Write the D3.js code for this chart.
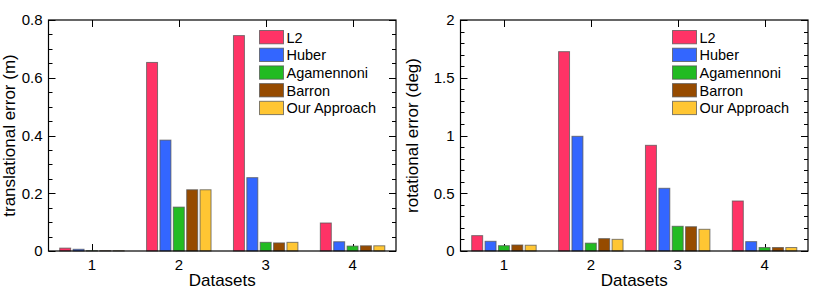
<!DOCTYPE html>
<html><head><meta charset="utf-8">
<script src="https://cdn.jsdelivr.net/npm/d3@7"></script>
<style>
html,body{margin:0;padding:0;background:#fff;}
svg{display:block;font-family:"Liberation Sans",Arial,Helvetica,sans-serif;}
</style></head>
<body>
<svg id="chart" width="831" height="290"></svg>
<script>
const datasets = ["1", "2", "3", "4"];
const seriesNames = ["L2", "Huber", "Agamennoni", "Barron", "Our Approach"];
const seriesColors = ["#ff3366", "#3366ff", "#22bb22", "#964b00", "#ffc633"];
// translational error (m), one array per series, values for datasets 1..4
const transL2 = [0.010, 0.653, 0.746, 0.097];
const transHuber = [0.006, 0.384, 0.254, 0.032];
const transAgamennoni = [0.001, 0.152, 0.030, 0.017];
const transBarron = [0.001, 0.212, 0.028, 0.018];
const transOurs = [0.001, 0.212, 0.030, 0.018];
// rotational error (deg)
const rotL2 = [0.133, 1.726, 0.915, 0.433];
const rotHuber = [0.084, 0.993, 0.543, 0.081];
const rotAgamennoni = [0.046, 0.068, 0.214, 0.030];
const rotBarron = [0.052, 0.107, 0.210, 0.030];
const rotOurs = [0.050, 0.101, 0.188, 0.030];
const transTicks = [0, 0.2, 0.4, 0.6, 0.8];
const transTickLabels = ["0", "0.2", "0.4", "0.6", "0.8"];
const rotTicks = [0, 0.5, 1, 1.5, 2];
const rotTickLabels = ["0", "0.5", "1", "1.5", "2"];

const svg = d3.select("#chart");

function drawPanel(cfg) {
  const {x0, x1, y0, y1, maxY, majorTicks, majorLabels, minorStep, values, ylabel, ylabelX, legendX} = cfg;
  const g = svg.append("g");
  const x = d3.scaleBand().domain(datasets).range([x0, x1]).padding(0);
  const y = d3.scaleLinear().domain([0, maxY]).range([y1, y0]);
  const groupW = x.bandwidth() * 0.742;
  const xs = d3.scaleBand().domain(seriesNames).range([0, groupW]).paddingInner(0.18).paddingOuter(0);

  // minor + major y ticks, both sides, inward
  const minor = d3.range(0, maxY + 1e-9, minorStep);
  const tickG = g.append("g").attr("stroke", "#000").attr("stroke-width", 1);
  minor.forEach(v => {
    const isMajor = majorTicks.some(m => Math.abs(m - v) < 1e-9);
    const len = isMajor ? 7 : 4;
    const yy = Math.round(y(v)) + 0.5;
    tickG.append("line").attr("x1", x0).attr("x2", x0 + len).attr("y1", yy).attr("y2", yy);
    tickG.append("line").attr("x1", x1).attr("x2", x1 - len).attr("y1", yy).attr("y2", yy);
  });
  // x ticks top and bottom
  datasets.forEach(d => {
    const xx = Math.round(x(d) + x.bandwidth() / 2) + 0.5;
    tickG.append("line").attr("x1", xx).attr("x2", xx).attr("y1", y1).attr("y2", y1 - 7);
    tickG.append("line").attr("x1", xx).attr("x2", xx).attr("y1", y0).attr("y2", y0 + 7);
  });

  // bars
  seriesNames.forEach((s, si) => {
    g.append("g").selectAll("rect").data(values[si]).join("rect")
      .attr("x", (v, i) => x(datasets[i]) + (x.bandwidth() - groupW) / 2 + xs(s))
      .attr("y", v => y(v))
      .attr("width", xs.bandwidth())
      .attr("height", v => y1 - y(v))
      .attr("fill", seriesColors[si])
      .attr("stroke", "#555")
      .attr("stroke-opacity", 0.75)
      .attr("stroke-width", 1);
  });

  // frame
  g.append("rect").attr("x", x0).attr("y", y0).attr("width", x1 - x0).attr("height", y1 - y0)
    .attr("fill", "none").attr("stroke", "#000").attr("stroke-width", 1.2);

  // y tick labels
  g.append("g").selectAll("text").data(majorTicks).join("text")
    .attr("x", x0 - 6).attr("y", v => y(v)).attr("dy", "0.36em")
    .attr("text-anchor", "end").attr("font-size", 15).attr("fill", "#000")
    .text((v, i) => majorLabels[i]);
  // x tick labels
  g.append("g").selectAll("text").data(datasets).join("text")
    .attr("x", d => x(d) + x.bandwidth() / 2).attr("y", y1 + 19)
    .attr("text-anchor", "middle").attr("font-size", 15).attr("fill", "#000")
    .text(d => d);
  // axis labels
  g.append("text").attr("x", (x0 + x1) / 2).attr("y", 286)
    .attr("text-anchor", "middle").attr("font-size", 17).text("Datasets");
  g.append("text").attr("transform", `translate(${ylabelX},${(y0 + y1) / 2}) rotate(-90)`)
    .attr("text-anchor", "middle").attr("font-size", 17).text(ylabel);

  // legend
  const lg = g.append("g");
  seriesNames.forEach((s, si) => {
    const ly = 30.5 + si * 17.7;
    lg.append("rect").attr("x", legendX).attr("y", ly).attr("width", 24).attr("height", 13.3)
      .attr("fill", seriesColors[si]).attr("stroke", "#555").attr("stroke-opacity", 0.75);
    lg.append("text").attr("x", legendX + 27).attr("y", ly + 6.8).attr("dy", "0.36em")
      .attr("font-size", 14.5).text(s);
  });
}

drawPanel({
  x0: 48.5, x1: 396, y0: 20, y1: 251, maxY: 0.8,
  majorTicks: transTicks, majorLabels: transTickLabels, minorStep: 0.05,
  values: [transL2, transHuber, transAgamennoni, transBarron, transOurs],
  ylabel: "translational error (m)", ylabelX: 15, legendX: 259.5
});
drawPanel({
  x0: 460.5, x1: 808, y0: 20, y1: 251, maxY: 2,
  majorTicks: rotTicks, majorLabels: rotTickLabels, minorStep: 0.1,
  values: [rotL2, rotHuber, rotAgamennoni, rotBarron, rotOurs],
  ylabel: "rotational error (deg)", ylabelX: 418, legendX: 672.5
});
</script>
</body></html>
